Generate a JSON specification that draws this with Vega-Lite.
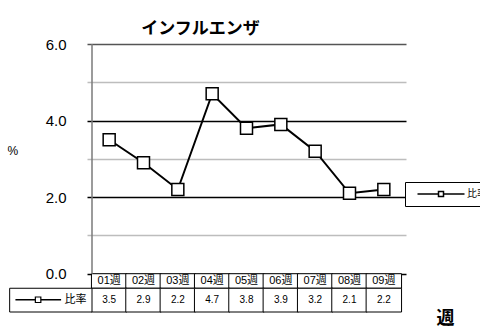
{
  "$schema": "https://vega.github.io/schema/vega-lite/v6.json",
  "width": 319,
  "height": 268,
  "autosize": {"type": "none"},
  "padding": {"left": 87, "top": 44, "right": 74, "bottom": 22},
  "background": "white",
  "config": {"view": {"stroke": null}, "font": "Liberation Sans"},
  "title": {"text": "インフルエンザ", "font": "Noto Sans CJK JP", "fontSize": 17, "fontWeight": "bold", "color": "black", "anchor": "middle", "frame": "group", "dx": -46, "offset": -1},
  "data": {"values": [
    {"week": "01週", "i": 1, "value": 3.5, "series": "比率"},
    {"week": "02週", "i": 2, "value": 2.9, "series": "比率"},
    {"week": "03週", "i": 3, "value": 2.2, "series": "比率"},
    {"week": "04週", "i": 4, "value": 4.7, "series": "比率"},
    {"week": "05週", "i": 5, "value": 3.8, "series": "比率"},
    {"week": "06週", "i": 6, "value": 3.9, "series": "比率"},
    {"week": "07週", "i": 7, "value": 3.2, "series": "比率"},
    {"week": "08週", "i": 8, "value": 2.1, "series": "比率"},
    {"week": "09週", "i": 9, "value": 2.2, "series": "比率"}
  ]},
  "layer": [
    {
      "mark": {"type": "bar", "width": 35.44, "fill": "white", "stroke": "black", "strokeWidth": 1},
      "encoding": {
        "x": {"field": "i", "type": "quantitative", "scale": {"domain": [0.5, 9.5], "nice": false, "zero": false},
          "axis": {"title": "週", "titleFont": "Noto Sans CJK JP", "titleFontSize": 18, "titleFontWeight": "bold", "titleColor": "black", "titleX": 358, "titleY": 6, "titleAlign": "center", "titleBaseline": "middle", "labels": false, "ticks": false, "domain": false, "grid": false}},
        "y": {"datum": 0, "type": "quantitative", "scale": {"domain": [-1, 6], "nice": false, "zero": false},
          "axis": {"values": [0, 1, 2, 3, 4, 5, 6], "labelExpr": "datum.value % 2 === 0 ? format(datum.value, '.1f') : ''", "labelFont": "Liberation Sans", "labelFontSize": 15, "labelColor": "black", "labelPadding": 21, "ticks": false, "domain": false, "grid": true, "gridColor": {"condition": [{"test": "datum.value % 2 === 1", "value": "#bdbdbd"}, {"test": "datum.value === 6", "value": "#555555"}], "value": "black"}, "gridWidth": 1.3, "gridOpacity": 1, "title": "%", "titleAngle": 0, "titleX": -80, "titleY": 106, "titleAlign": "left", "titleBaseline": "middle", "titleFont": "Liberation Sans", "titleFontSize": 12, "titleFontWeight": "normal", "titleColor": "black"}},
        "y2": {"datum": -0.38}
      }
    },
    {
      "mark": {"type": "bar", "width": 35.44, "fill": "white", "stroke": "black", "strokeWidth": 1},
      "encoding": {
        "x": {"field": "i", "type": "quantitative"},
        "y": {"datum": -0.38, "type": "quantitative"},
        "y2": {"datum": -1}
      }
    },
    {
      "mark": {"type": "text", "font": "Liberation Sans, Noto Sans CJK JP", "fontSize": 11, "color": "black", "baseline": "middle"},
      "encoding": {
        "x": {"field": "i", "type": "quantitative"},
        "y": {"datum": -0.19, "type": "quantitative"},
        "text": {"field": "week"}
      }
    },
    {
      "mark": {"type": "text", "font": "Liberation Sans", "fontSize": 10, "color": "black", "baseline": "middle"},
      "encoding": {
        "x": {"field": "i", "type": "quantitative"},
        "y": {"datum": -0.69, "type": "quantitative"},
        "text": {"field": "value", "format": ".1f"}
      }
    },
    {
      "data": {"values": [{"series": "比率"}]},
      "layer": [
        {
          "mark": {"type": "rect", "fill": "white", "stroke": "black", "strokeWidth": 1},
          "encoding": {
            "x": {"datum": -1.898, "type": "quantitative"},
            "x2": {"datum": 0.5},
            "y": {"datum": -0.38, "type": "quantitative"},
            "y2": {"datum": -1}
          }
        },
        {
          "mark": {"type": "rule", "color": "black", "strokeWidth": 1.5},
          "encoding": {
            "x": {"datum": -1.73, "type": "quantitative"},
            "x2": {"datum": -0.4},
            "y": {"datum": -0.68, "type": "quantitative"}
          }
        },
        {
          "mark": {"type": "point", "shape": "square", "size": 30, "filled": true, "fill": "white", "stroke": "black", "strokeWidth": 1.2, "opacity": 1},
          "encoding": {
            "x": {"datum": -1.07, "type": "quantitative"},
            "y": {"datum": -0.68, "type": "quantitative"}
          }
        },
        {
          "mark": {"type": "text", "font": "Noto Sans CJK JP", "fontSize": 11, "color": "black", "baseline": "middle"},
          "encoding": {
            "x": {"datum": 0.02, "type": "quantitative"},
            "y": {"datum": -0.68, "type": "quantitative"},
            "text": {"field": "series"}
          }
        },
        {
          "mark": {"type": "rule", "color": "#7a7a7a", "strokeWidth": 1.5},
          "encoding": {
            "x": {"datum": 0.5, "type": "quantitative"},
            "y": {"datum": 0, "type": "quantitative"},
            "y2": {"datum": 6}
          }
        }
      ]
    },
    {
      "mark": {"type": "line", "strokeWidth": 2},
      "encoding": {
        "x": {"field": "i", "type": "quantitative"},
        "y": {"field": "value", "type": "quantitative"},
        "color": {"field": "series", "type": "nominal", "scale": {"range": ["black"]},
          "legend": {"orient": "none", "legendX": 318, "legendY": 138, "title": null, "strokeColor": "black", "fillColor": "white", "padding": 6, "symbolType": "M-4.7,0H-0.5M0.5,0H4.7M-0.5,-0.5H0.5V0.5H-0.5Z", "symbolSize": 100, "symbolStrokeWidth": 1.5, "symbolFillColor": "white", "symbolOffset": 24, "labelOffset": 20, "labelFont": "Noto Sans CJK JP", "labelFontSize": 10, "labelColor": "black"}}
      }
    },
    {
      "mark": {"type": "point", "shape": "square", "size": 144, "filled": true, "fill": "white", "stroke": "black", "strokeWidth": 1.5, "opacity": 1},
      "encoding": {
        "x": {"field": "i", "type": "quantitative"},
        "y": {"field": "value", "type": "quantitative"}
      }
    }
  ]
}
